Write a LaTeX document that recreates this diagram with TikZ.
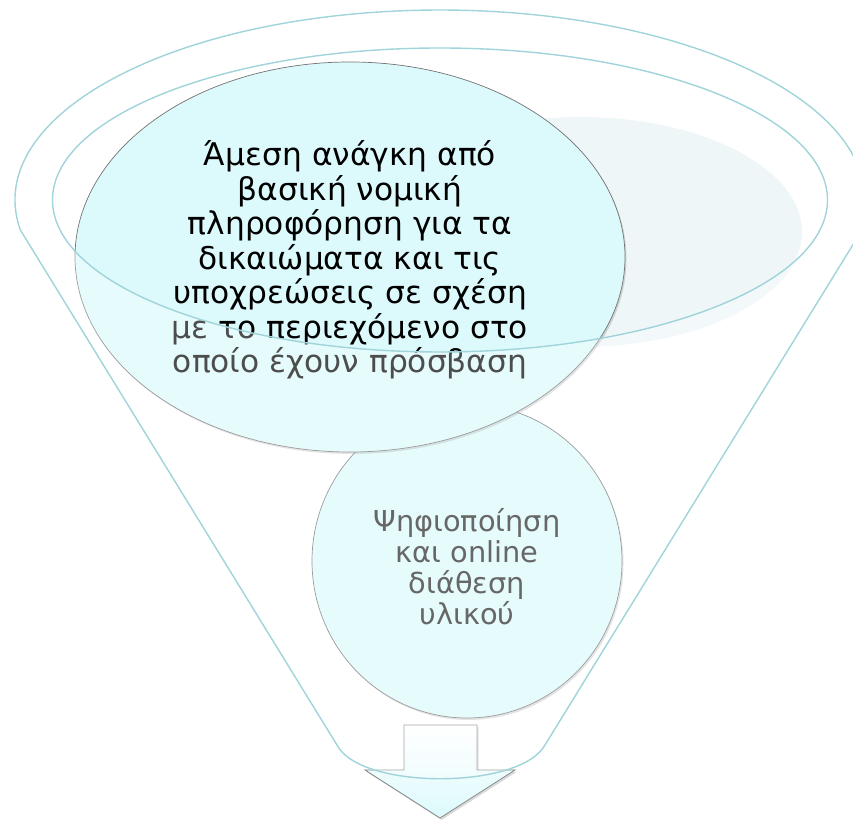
\documentclass[tikz,border=0pt]{standalone}
\usepackage{fontspec}
\setmainfont{DejaVu Sans}
\usetikzlibrary{shapes.geometric,shadows}

\definecolor{rimcol}{RGB}{160,212,218}
\definecolor{bubblecol}{RGB}{220,250,252}
\definecolor{backcol}{RGB}{239,246,248}

\tikzset{
  rim/.style={draw=rimcol, line width=0.8pt},
  bubble/.style={ellipse, fill=bubblecol, draw=black!55, line width=0.4pt, inner sep=0pt,
    drop shadow={opacity=0.3, shadow xshift=0.03cm, shadow yshift=-0.04cm}},
  bigtext/.style={align=center, font=\fontsize{17.8}{19.6}\selectfont},
  smalltext/.style={align=center, font=\fontsize{16.4}{17.6}\selectfont, text=black!85},
  downarrow/.style={top color=white, bottom color=bubblecol, draw=black!50, line width=0.4pt,
    drop shadow={opacity=0.3, shadow xshift=0.03cm, shadow yshift=-0.04cm}}
}

\begin{document}
\begin{tikzpicture}
  \useasboundingbox (0,0) rectangle (17.06,16.46);

  % third item, behind the rim
  \fill[backcol] (11.6,11.82) ellipse [x radius=4.44, y radius=2.3];

  % lower circle
  \node[bubble, minimum width=6.2cm, minimum height=6.28cm] (digit) at (9.34,5.24) {};
  \node[smalltext] (digittext) at (9.34,5.12)
    {Ψηφιοποίηση\\και online\\διάθεση\\υλικού};

  % upper circle
  \node[bubble, minimum width=11cm, minimum height=7.8cm] (need) at (7.0,11.32) {};
  \node[bigtext] (needtext) at (7.0,11.26)
    {Άμεση ανάγκη από\\βασική νομική\\πληροφόρηση για τα\\δικαιώματα και τις\\υποχρεώσεις σε σχέση\\με το περιεχόμενο στο\\οποίο έχουν πρόσβαση};

  % arrow out of the funnel
  \draw[downarrow] (8.08,1.96) -- (9.54,1.96) -- (9.54,1.06) -- (10.3,1.06)
    -- (8.8,0.1) -- (7.3,1.06) -- (8.08,1.06) -- cycle;

  % funnel body and rim
  \path[rim, even odd rule, fill=white, fill opacity=0.3]
    (0.407,11.86) arc[start angle=189.08, end angle=-13.08, x radius=8.5, y radius=3.8]
    -- (10.9,1.56) .. controls (10.4,0.66) and (7.2,0.66) .. (6.74,1.56) -- cycle
    (8.8,12.46) ellipse [x radius=7.75, y radius=3.04];
\end{tikzpicture}
\end{document}
